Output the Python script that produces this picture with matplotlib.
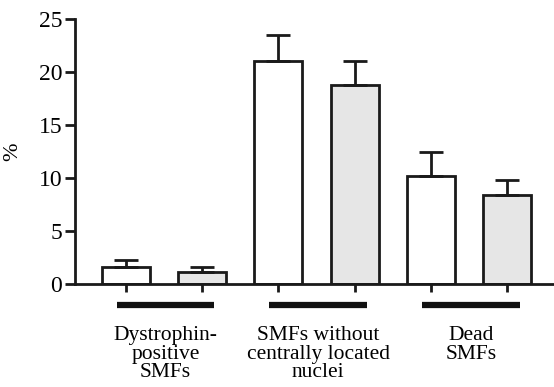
import matplotlib
matplotlib.use("Agg")
import matplotlib.pyplot as plt
import numpy as np

# three groups, two bars each (white, grey)
groups = ['Dystrophin-\npositive\nSMFs', 'SMFs without\ncentrally located\nnuclei', 'Dead\nSMFs']
means = [1.6, 1.1, 21.0, 18.8, 10.2, 8.4]
upper = [2.3, 1.6, 23.5, 21.0, 12.5, 9.8]
colors = ['white', '#e6e6e6', 'white', '#e6e6e6', 'white', '#e6e6e6']
yticks = [0, 5, 10, 15, 20, 25]

plt.rcParams['font.family'] = ['Liberation Serif', 'DejaVu Serif']

fig = plt.figure(figsize=(5.54, 3.87), dpi=100)
ax = fig.add_axes([0.135, 0.266, 0.865, 0.685])

x = np.arange(len(means))
err = np.array(upper) - np.array(means)
ax.bar(x, means, width=0.63, color=colors, edgecolor='#1a1a1a', linewidth=2,
       yerr=[np.zeros(len(err)), err],
       error_kw=dict(ecolor='#1a1a1a', elinewidth=2, capsize=8.7, capthick=2))

ax.set_xlim(-0.668, 5.61)
ax.set_ylim(0, 25)
ax.set_yticks(yticks)
ax.set_xticks(x)
ax.set_xticklabels([])
ax.tick_params(axis='y', length=7, width=2, labelsize=17, pad=2, color='#1a1a1a')
ax.tick_params(axis='x', length=6, width=2, color='#1a1a1a')
for s in ['top', 'right']:
    ax.spines[s].set_visible(False)
for s in ['left', 'bottom']:
    ax.spines[s].set_linewidth(2)
    ax.spines[s].set_color('#1a1a1a')
ax.set_ylabel('%', fontsize=16, labelpad=12)

# group bars + labels under the axis
for i, name in enumerate(groups):
    a = x[2 * i] - 0.12
    b = x[2 * i + 1] + 0.16
    ax.plot([a, b], [-2.0, -2.0], color='#111111', lw=4.5, solid_capstyle='butt', clip_on=False)
    ax.text((a + b) / 2, -3.95, name, ha='center', va='top', fontsize=15.5,
            linespacing=0.97, transform=ax.transData)

fig.savefig('out.png', dpi=100)
